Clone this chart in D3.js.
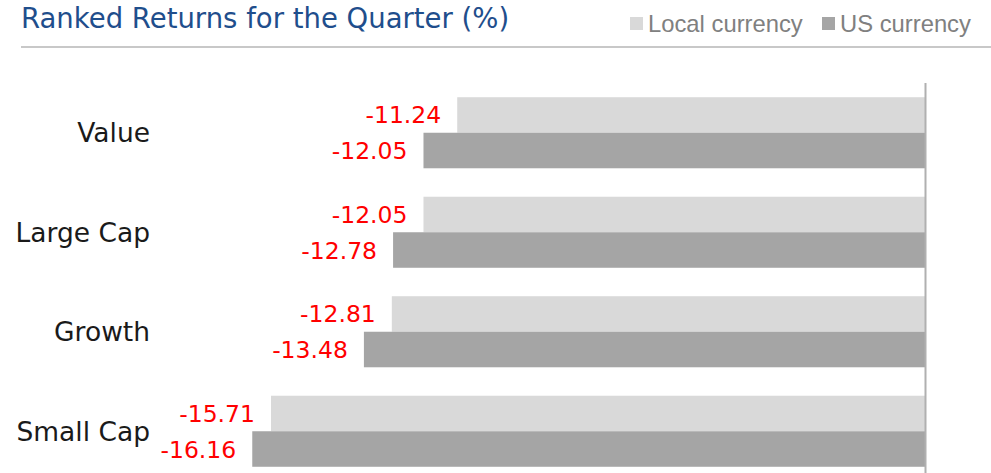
<!DOCTYPE html>
<html>
<head>
<meta charset="utf-8">
<script src="https://cdn.jsdelivr.net/npm/d3@7"></script>
<style>
  body { margin: 0; background: #fff; }
  svg { display: block; }
</style>
</head>
<body>
<script>
// chart data
var categories = ["Value", "Large Cap", "Growth", "Small Cap"];
var seriesNames = ["Local currency", "US currency"];
var localValues = [-11.24, -12.05, -12.81, -15.71];
var usValues = [-12.05, -12.78, -13.48, -16.16];
var seriesColors = ["#d9d9d9", "#a5a5a5"];

var w = 991, h = 473;
var gothic = "'URW Gothic', 'Century Gothic', 'DejaVu Sans', sans-serif";

var svg = d3.select("body").append("svg")
    .attr("width", w)
    .attr("height", h);

// title + underline
svg.append("text")
    .attr("x", 21).attr("y", 28)
    .attr("font-family", gothic)
    .attr("font-size", 27.5)
    .attr("fill", "#1f4e8c")
    .text("Ranked Returns for the Quarter (%)");

svg.append("line")
    .attr("x1", 21).attr("x2", w)
    .attr("y1", 47).attr("y2", 47)
    .attr("stroke", "#c8c8c8")
    .attr("stroke-width", 2);

// legend
var legendX = [630, 822];
seriesNames.forEach(function(name, i) {
    svg.append("rect")
        .attr("x", legendX[i]).attr("y", 17)
        .attr("width", 13).attr("height", 13)
        .attr("fill", seriesColors[i]);
    svg.append("text")
        .attr("x", legendX[i] + 18).attr("y", 32)
        .attr("font-family", "'Liberation Sans', Arial, sans-serif")
        .attr("font-size", 23.8)
        .attr("fill", "#808080")
        .text(name);
});

// scales
var x = d3.scaleLinear().domain([-18, 0]).range([175.6, 925.5]);
var y = d3.scaleBand().domain(categories).range([83, 481]).paddingInner(0.286).paddingOuter(0.143);
var sub = d3.scaleBand().domain([0, 1]).range([0, y.bandwidth()]);

var rows = categories.map(function(c, i) {
    return { cat: c, vals: [localValues[i], usValues[i]] };
});

var groups = svg.selectAll("g.row")
    .data(rows)
    .enter()
    .append("g")
    .attr("class", "row")
    .attr("transform", function(d) { return "translate(0," + y(d.cat) + ")"; });

groups.selectAll("rect")
    .data(function(d) { return d.vals; })
    .enter()
    .append("rect")
    .attr("x", function(d) { return x(d); })
    .attr("y", function(d, i) { return sub(i); })
    .attr("width", function(d) { return x(0) - x(d); })
    .attr("height", sub.bandwidth())
    .attr("fill", function(d, i) { return seriesColors[i]; });

groups.selectAll("text.val")
    .data(function(d) { return d.vals; })
    .enter()
    .append("text")
    .attr("class", "val")
    .attr("x", function(d) { return x(d) - 16; })
    .attr("y", function(d, i) { return sub(i) + sub.bandwidth() / 2 + 2; })
    .attr("text-anchor", "end")
    .attr("dominant-baseline", "middle")
    .attr("font-family", gothic)
    .attr("font-size", 23.5)
    .attr("fill", "#ff0000")
    .text(function(d) { return d.toFixed(2); });

// category labels
groups.append("text")
    .attr("x", 150)
    .attr("y", y.bandwidth() / 2 + 2)
    .attr("text-anchor", "end")
    .attr("dominant-baseline", "middle")
    .attr("font-family", gothic)
    .attr("font-size", 26.5)
    .attr("fill", "#1a1a1a")
    .text(function(d) { return d.cat; });

// zero axis
svg.append("line")
    .attr("x1", x(0)).attr("x2", x(0))
    .attr("y1", 83).attr("y2", h)
    .attr("stroke", "#b0b0b0")
    .attr("stroke-width", 2);
</script>
</body>
</html>
